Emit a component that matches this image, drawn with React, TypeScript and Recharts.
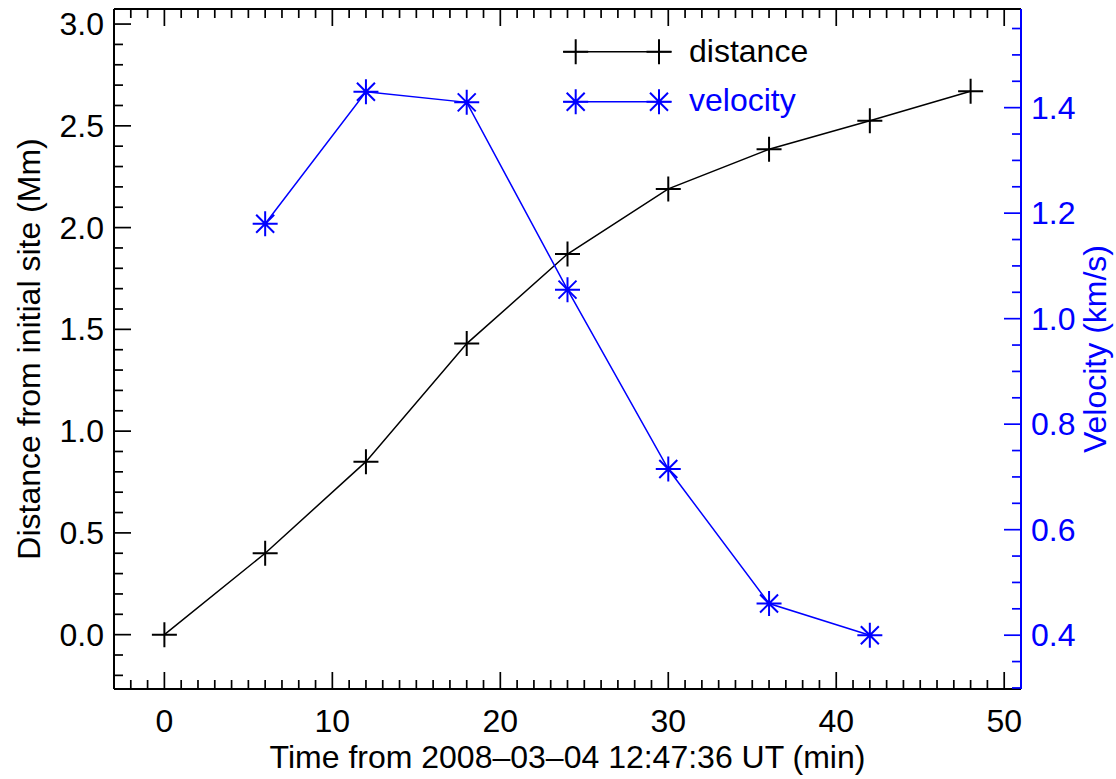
import { ComposedChart, Line, XAxis, YAxis, ReferenceLine, Legend } from "recharts"

const times = [0, 6, 12, 18, 24, 30, 36, 42, 48]
const distanceMm = [0.0, 0.4, 0.85, 1.43, 1.87, 2.19, 2.385, 2.525, 2.67]
const velocityKms = [null, 1.18, 1.43, 1.41, 1.055, 0.715, 0.46, 0.4, null]

const xMajorTicks = [0, 10, 20, 30, 40, 50]
const distMajorTicks = [0, 0.5, 1.0, 1.5, 2.0, 2.5, 3.0]
const velMajorTicks = [0.4, 0.6, 0.8, 1.0, 1.2, 1.4]

const xDomain = [-3, 51]
const distDomain = [-0.267, 3.074]
const velDomain = [0.298, 1.587]

const range = (from: number, to: number, step: number) => {
  const out: number[] = []
  const n = Math.round((to - from) / step)
  for (let i = 0; i <= n; i++) out.push(Math.round((from + i * step) * 1000) / 1000)
  return out
}
const xTicks = range(-2, 50, 1)
const distTicks = range(-0.2, 3.0, 0.1)
const velTicks = range(0.3, 1.55, 0.05)

const data = times.map((t, i) => ({ time: t, distance: distanceMm[i], velocity: velocityKms[i] }))

const BLUE = "#0000ff"
const FONT = "'Liberation Sans', Arial, sans-serif"
const FS = 32
const PLOT_TOP = 9
const MAJOR = 17
const MINOR = 9

const isMajor = (v: number, majors: number[]) => majors.some((m) => Math.abs(m - v) < 1e-6)

function BottomTick({ x, y, payload }: any) {
  const v = payload.value
  const major = isMajor(v, xMajorTicks)
  const len = major ? MAJOR : MINOR
  return (
    <g>
      <line x1={x} x2={x} y1={y} y2={y - len} stroke="#000" strokeWidth={1.7} />
      <line x1={x} x2={x} y1={PLOT_TOP} y2={PLOT_TOP + len} stroke="#000" strokeWidth={1.7} />
      {major && (
        <text x={x} y={y + 43} textAnchor="middle" fontFamily={FONT} fontSize={FS} fill="#000">
          {v}
        </text>
      )}
    </g>
  )
}

function LeftTick({ x, y, payload }: any) {
  const v = payload.value
  const major = isMajor(v, distMajorTicks)
  const len = major ? MAJOR : MINOR
  return (
    <g>
      <line x1={x} x2={x + len} y1={y} y2={y} stroke="#000" strokeWidth={1.7} />
      {major && (
        <text x={x - 10} y={y + 11} textAnchor="end" fontFamily={FONT} fontSize={FS} fill="#000">
          {v.toFixed(1)}
        </text>
      )}
    </g>
  )
}

function RightTick({ x, y, payload }: any) {
  const v = payload.value
  const major = isMajor(v, velMajorTicks)
  const len = major ? MAJOR : MINOR
  return (
    <g>
      <line x1={x} x2={x - len} y1={y} y2={y} stroke={BLUE} strokeWidth={1.7} />
      {major && (
        <text x={x + 10} y={y + 11} textAnchor="start" fontFamily={FONT} fontSize={FS} fill={BLUE}>
          {v.toFixed(1)}
        </text>
      )}
    </g>
  )
}

function plusPath(cx: number, cy: number, r: number) {
  return `M${cx - r},${cy}H${cx + r}M${cx},${cy - r}V${cy + r}`
}

function starPath(cx: number, cy: number, r: number) {
  const d = r * 0.72
  return `${plusPath(cx, cy, r)}M${cx - d},${cy - d}L${cx + d},${cy + d}M${cx - d},${cy + d}L${cx + d},${cy - d}`
}

function PlusDot(props: any) {
  const { cx, cy, index } = props
  if (cx == null || cy == null || props.value == null) return <g key={`p${index}`} />
  return <path key={`p${index}`} d={plusPath(cx, cy, 12.5)} stroke="#000" strokeWidth={2} fill="none" />
}

function StarDot(props: any) {
  const { cx, cy, index } = props
  if (cx == null || cy == null || props.value == null) return <g key={`s${index}`} />
  return <path key={`s${index}`} d={starPath(cx, cy, 12.5)} stroke={BLUE} strokeWidth={2} fill="none" />
}

function LegendBox() {
  return (
    <svg width={320} height={110} style={{ display: "block", overflow: "visible" }}>
      <line x1={12} x2={120.5} y1={31.7} y2={31.7} stroke="#000" strokeWidth={1.5} />
      <path d={plusPath(24.7, 31.7, 12.5)} stroke="#000" strokeWidth={2} fill="none" />
      <path d={plusPath(108, 31.7, 12.5)} stroke="#000" strokeWidth={2} fill="none" />
      <text x={138} y={41.5} fontFamily={FONT} fontSize={FS} fill="#000">
        distance
      </text>
      <line x1={12} x2={120.5} y1={81.7} y2={81.7} stroke={BLUE} strokeWidth={1.5} />
      <path d={starPath(24.7, 81.7, 12.5)} stroke={BLUE} strokeWidth={2} fill="none" />
      <path d={starPath(108, 81.7, 12.5)} stroke={BLUE} strokeWidth={2} fill="none" />
      <text x={138} y={90.5} fontFamily={FONT} fontSize={FS} fill={BLUE}>
        velocity
      </text>
    </svg>
  )
}

export default function App() {
  return (
    <div style={{ position: "absolute", left: 0, top: 0, background: "#fff" }}>
      <ComposedChart
        width={1116}
        height={779}
        data={data}
        margin={{ top: PLOT_TOP, right: 0, bottom: 0, left: 0 }}
      >
        <XAxis
          dataKey="time"
          type="number"
          domain={xDomain}
          ticks={xTicks}
          interval={0}
          allowDataOverflow
          height={90}
          tickSize={0}
          tickMargin={0}
          tickLine={false}
          tick={<BottomTick />}
          axisLine={{ stroke: "#000", strokeWidth: 2 }}
          label={{
            content: (p: any) => {
              const vb = p.viewBox
              return (
                <text
                  x={vb.x + vb.width / 2}
                  y={vb.y + 79}
                  textAnchor="middle"
                  fontFamily={FONT}
                  fontSize={FS}
                  fill="#000"
                >
                  Time from 2008–03–04 12:47:36 UT (min)
                </text>
              )
            },
          }}
        />
        <YAxis
          yAxisId="left"
          type="number"
          domain={distDomain}
          ticks={distTicks}
          interval={0}
          allowDataOverflow
          width={114}
          tickSize={0}
          tickMargin={0}
          tickLine={false}
          tick={<LeftTick />}
          axisLine={{ stroke: "#000", strokeWidth: 2 }}
          label={{
            content: (p: any) => {
              const vb = p.viewBox
              const cx = 29
              const cy = vb.y + vb.height / 2
              return (
                <text
                  x={cx}
                  y={cy}
                  transform={`rotate(-90 ${cx} ${cy})`}
                  textAnchor="middle"
                  dominantBaseline="central"
                  fontFamily={FONT}
                  fontSize={FS}
                  fill="#000"
                >
                  Distance from initial site (Mm)
                </text>
              )
            },
          }}
        />
        <YAxis
          yAxisId="right"
          orientation="right"
          type="number"
          domain={velDomain}
          ticks={velTicks}
          interval={0}
          allowDataOverflow
          width={95}
          tickSize={0}
          tickMargin={0}
          tickLine={false}
          tick={<RightTick />}
          axisLine={{ stroke: BLUE, strokeWidth: 2 }}
          label={{
            content: (p: any) => {
              const vb = p.viewBox
              const cx = 1095
              const cy = vb.y + vb.height / 2
              return (
                <text
                  x={cx}
                  y={cy}
                  transform={`rotate(-90 ${cx} ${cy})`}
                  textAnchor="middle"
                  dominantBaseline="central"
                  fontFamily={FONT}
                  fontSize={FS}
                  fill={BLUE}
                >
                  Velocity (km/s)
                </text>
              )
            },
          }}
        />
        <ReferenceLine yAxisId="left" y={distDomain[1]} stroke="#000" strokeWidth={2} />
        <Legend
          layout="vertical"
          align="center"
          verticalAlign="middle"
          wrapperStyle={{ left: 551, top: 20, width: 320, height: 110 }}
          content={() => <LegendBox />}
        />
        <Line
          yAxisId="left"
          dataKey="distance"
          type="linear"
          stroke="#000"
          strokeWidth={1.5}
          dot={PlusDot}
          activeDot={false}
          isAnimationActive={false}
        />
        <Line
          yAxisId="right"
          dataKey="velocity"
          type="linear"
          stroke={BLUE}
          strokeWidth={1.5}
          connectNulls
          dot={StarDot}
          activeDot={false}
          isAnimationActive={false}
        />
      </ComposedChart>
    </div>
  )
}
